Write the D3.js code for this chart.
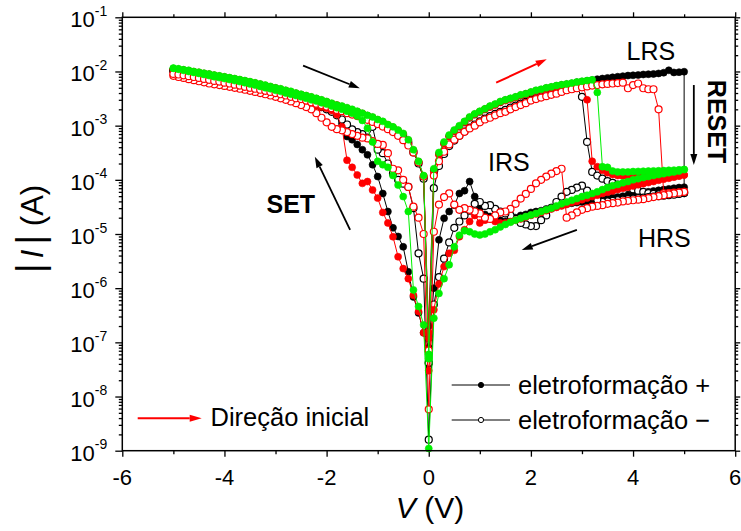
<!DOCTYPE html>
<html>
<head>
<meta charset="utf-8">
<script src="https://cdn.jsdelivr.net/npm/d3@7/dist/d3.min.js"></script>
<style>
  html, body { margin: 0; padding: 0; background: #fff; }
  svg { display: block; }
  text { font-family: Arial, "Liberation Sans", sans-serif; fill: #000; }
</style>
</head>
<body>
<svg id="chart" width="741" height="531"></svg>
<script>
// Voltage sweep: 0 -> +5 V, +5 -> 0 V, 0 -> -5 V, -5 -> 0 V
const voltage = [
  0,0.1,0.2,0.3,0.4,0.5,0.6,0.7,0.8,0.9,1,1.1,1.2,1.3,1.4,1.5,1.6,1.7,1.8,1.9,
  2,2.1,2.2,2.3,2.4,2.5,2.6,2.7,2.8,2.9,3,3.1,3.2,3.3,3.4,3.5,3.6,3.7,3.8,3.9,
  4,4.1,4.2,4.3,4.4,4.5,4.6,4.7,4.8,4.9,5,
  5,4.9,4.8,4.7,4.6,4.5,4.4,4.3,4.2,4.1,4,3.9,3.8,3.7,3.6,3.5,3.4,3.3,3.2,3.1,
  3,2.9,2.8,2.7,2.6,2.5,2.4,2.3,2.2,2.1,2,1.9,1.8,1.7,1.6,1.5,1.4,1.3,1.2,1.1,
  1,0.9,0.8,0.7,0.6,0.5,0.4,0.3,0.2,0.1,0,
  -0.1,-0.2,-0.3,-0.4,-0.5,-0.6,-0.7,-0.8,-0.9,-1,-1.1,-1.2,-1.3,-1.4,-1.5,-1.6,-1.7,-1.8,-1.9,-2,
  -2.1,-2.2,-2.3,-2.4,-2.5,-2.6,-2.7,-2.8,-2.9,-3,-3.1,-3.2,-3.3,-3.4,-3.5,-3.6,-3.7,-3.8,-3.9,-4,
  -4.1,-4.2,-4.3,-4.4,-4.5,-4.6,-4.7,-4.8,-4.9,-5,
  -5,-4.9,-4.8,-4.7,-4.6,-4.5,-4.4,-4.3,-4.2,-4.1,-4,-3.9,-3.8,-3.7,-3.6,-3.5,-3.4,-3.3,-3.2,-3.1,
  -3,-2.9,-2.8,-2.7,-2.6,-2.5,-2.4,-2.3,-2.2,-2.1,-2,-1.9,-1.8,-1.7,-1.6,-1.5,-1.4,-1.3,-1.2,-1.1,
  -1,-0.9,-0.8,-0.7,-0.6,-0.5,-0.4,-0.3,-0.2,-0.1,0
];

// |I| (A) for each sweep point
const blackFilled = [
  2e-7,1.5e-4,3.0e-4,4.7e-4,6.4e-4,8.0e-4,9.6e-4,1.15e-3,1.4e-3,1.6e-3,
  1.8e-3,2.0e-3,2.25e-3,2.45e-3,2.7e-3,2.95e-3,3.15e-3,3.35e-3,3.6e-3,3.85e-3,
  4.1e-3,4.4e-3,4.6e-3,4.9e-3,5.1e-3,5.4e-3,5.6e-3,5.8e-3,6.0e-3,6.3e-3,
  6.5e-3,6.7e-3,6.9e-3,7.2e-3,7.4e-3,7.6e-3,7.8e-3,8.0e-3,8.2e-3,8.4e-3,
  8.5e-3,8.6e-3,8.8e-3,8.9e-3,9.0e-3,9.2e-3,9.5e-3,1.05e-2,9.6e-3,9.7e-3,
  9.9e-3,
  7.3e-5,7.2e-5,7.0e-5,6.8e-5,6.6e-5,6.4e-5,6.2e-5,6.0e-5,5.8e-5,5.6e-5,
  5.4e-5,5.2e-5,5.0e-5,4.8e-5,4.7e-5,4.5e-5,4.4e-5,4.2e-5,4.1e-5,4.0e-5,
  3.9e-5,3.8e-5,3.7e-5,3.6e-5,3.4e-5,3.3e-5,3.1e-5,2.9e-5,2.7e-5,2.6e-5,
  2.5e-5,2.3e-5,2.2e-5,2.0e-5,1.8e-5,1.7e-5,1.8e-5,1.9e-5,2.1e-5,2.3e-5,
  3.0e-5,4.9e-5,9.3e-5,6.3e-5,5.6e-5,3.4e-5,2.6e-5,1.95e-5,7.8e-6,1.0e-6,
  8e-8,
  1.5e-7,3.5e-7,6.9e-7,2.0e-6,5.8e-6,9.0e-6,1.3e-5,2.6e-5,5.6e-5,1.15e-4,
  1.9e-4,2.9e-4,3.6e-4,4.5e-4,5.5e-4,6.3e-4,1.1e-3,1.6e-3,1.9e-3,2.2e-3,
  2.4e-3,2.6e-3,2.8e-3,3.0e-3,3.2e-3,3.4e-3,3.6e-3,3.8e-3,4.0e-3,4.3e-3,
  4.5e-3,4.8e-3,5.0e-3,5.3e-3,5.6e-3,5.9e-3,6.2e-3,6.5e-3,6.8e-3,7.1e-3,
  7.4e-3,7.7e-3,8.0e-3,8.4e-3,8.8e-3,9.2e-3,9.6e-3,1.0e-2,1.05e-2,1.1e-2,
  1.1e-2,1.08e-2,1.05e-2,1.02e-2,9.8e-3,9.5e-3,9.1e-3,8.8e-3,8.4e-3,8.1e-3,
  7.8e-3,7.5e-3,7.2e-3,6.9e-3,6.6e-3,6.3e-3,6.0e-3,5.7e-3,5.4e-3,5.1e-3,
  4.9e-3,4.6e-3,4.4e-3,4.1e-3,3.9e-3,3.7e-3,3.5e-3,3.3e-3,3.1e-3,2.9e-3,
  2.7e-3,2.5e-3,2.35e-3,2.2e-3,2.05e-3,1.9e-3,1.8e-3,1.65e-3,1.5e-3,1.4e-3,
  1.25e-3,1.15e-3,1.0e-3,9.0e-4,7.8e-4,6.8e-4,5.2e-4,3.4e-4,2.1e-4,1.1e-4,
  1.2e-7
];

const blackOpen = [
  4.1e-8,7.0e-5,1.8e-4,3.0e-4,4.2e-4,5.3e-4,6.5e-4,7.8e-4,9.2e-4,1.05e-3,
  1.2e-3,1.35e-3,1.5e-3,1.65e-3,1.8e-3,1.95e-3,2.15e-3,2.35e-3,2.55e-3,2.75e-3,
  3.0e-3,3.2e-3,3.45e-3,3.7e-3,3.9e-3,4.1e-3,4.35e-3,4.6e-3,4.8e-3,5.0e-3,
  3.4e-3,5.0e-4,1.4e-4,1.2e-4,1.05e-4,9.5e-5,8.8e-5,8.2e-5,7.6e-5,7.1e-5,
  6.7e-5,6.3e-5,6.0e-5,5.7e-5,5.5e-5,5.4e-5,5.4e-5,5.5e-5,5.5e-5,5.6e-5,
  5.7e-5,
  5.7e-5,5.5e-5,5.3e-5,5.2e-5,5.1e-5,5.0e-5,4.9e-5,4.8e-5,4.7e-5,4.6e-5,
  4.5e-5,4.4e-5,4.3e-5,4.2e-5,4.1e-5,4.0e-5,3.9e-5,4.3e-5,5.3e-5,6.3e-5,
  7.8e-5,7.2e-5,6.5e-5,6.0e-5,4.9e-5,3.9e-5,3.0e-5,2.2e-5,1.8e-5,1.4e-5,
  1.4e-5,1.5e-5,1.6e-5,1.9e-5,2.2e-5,2.4e-5,2.6e-5,2.9e-5,3.4e-5,3.3e-5,
  3.9e-5,3.6e-5,2.7e-5,2.2e-5,1.7e-5,1.3e-5,7.0e-6,3.5e-6,1.6e-6,5.0e-7,
  1.6e-9,
  1.5e-6,4.4e-6,3.0e-5,7.4e-5,8.5e-5,1.0e-4,1.3e-4,2.0e-4,3.1e-4,3.6e-4,
  9.5e-4,6.0e-4,7.0e-4,7.6e-4,8.5e-4,1.05e-3,1.3e-3,1.55e-3,1.8e-3,2.0e-3,
  2.2e-3,2.4e-3,2.6e-3,2.8e-3,3.0e-3,3.2e-3,3.4e-3,3.6e-3,3.8e-3,4.0e-3,
  4.2e-3,4.5e-3,4.7e-3,5.0e-3,5.3e-3,5.6e-3,5.9e-3,6.2e-3,6.5e-3,6.8e-3,
  7.1e-3,7.4e-3,7.7e-3,8.0e-3,8.4e-3,8.8e-3,9.2e-3,9.6e-3,1.0e-2,1.03e-2,
  1.03e-2,1.0e-2,9.8e-3,9.5e-3,9.2e-3,8.9e-3,8.6e-3,8.3e-3,8.0e-3,7.7e-3,
  7.4e-3,7.1e-3,6.8e-3,6.5e-3,6.2e-3,5.9e-3,5.7e-3,5.4e-3,5.1e-3,4.9e-3,
  4.6e-3,4.4e-3,4.2e-3,3.9e-3,3.7e-3,3.5e-3,3.3e-3,3.1e-3,2.9e-3,2.75e-3,
  2.55e-3,2.4e-3,2.25e-3,2.1e-3,1.95e-3,1.8e-3,1.7e-3,1.55e-3,1.45e-3,1.3e-3,
  1.2e-3,1.1e-3,9.6e-4,8.6e-4,7.4e-4,6.3e-4,4.8e-4,3.2e-4,2.0e-4,1.05e-4,
  4.2e-8
];

const redFilled = [
  1.2e-7,1.4e-4,2.9e-4,4.6e-4,6.3e-4,7.9e-4,9.6e-4,1.15e-3,1.4e-3,1.6e-3,
  1.8e-3,2.0e-3,2.2e-3,2.4e-3,2.7e-3,2.9e-3,3.1e-3,3.3e-3,3.6e-3,3.8e-3,
  4.1e-3,4.35e-3,4.55e-3,4.85e-3,5.05e-3,5.3e-3,5.5e-3,5.7e-3,5.9e-3,6.2e-3,
  6.4e-3,3.0e-3,2.2e-4,1.75e-4,1.5e-4,1.35e-4,1.25e-4,1.2e-4,1.18e-4,1.17e-4,
  1.17e-4,1.17e-4,1.18e-4,1.18e-4,1.19e-4,1.2e-4,1.2e-4,1.21e-4,1.22e-4,1.22e-4,
  1.23e-4,
  1.23e-4,1.17e-4,1.12e-4,1.07e-4,1.03e-4,9.8e-5,9.3e-5,8.9e-5,8.5e-5,8.1e-5,
  7.7e-5,7.3e-5,7.0e-5,6.6e-5,6.2e-5,5.9e-5,5.6e-5,5.2e-5,4.9e-5,4.6e-5,
  4.3e-5,4.0e-5,3.8e-5,3.5e-5,3.3e-5,3.1e-5,2.9e-5,2.7e-5,2.5e-5,2.35e-5,
  2.2e-5,2.05e-5,1.9e-5,1.8e-5,1.7e-5,1.6e-5,1.6e-5,1.7e-5,1.9e-5,1.8e-5,
  1.6e-5,2.2e-5,1.7e-5,1.2e-5,8.9e-6,5.0e-6,4.4e-6,2.5e-6,1.2e-6,4.0e-7,
  3.0e-8,
  1.5e-7,3.7e-7,7.4e-7,1.5e-6,2.3e-6,3.8e-6,8.9e-6,1.6e-5,2.5e-5,4.6e-5,
  6.5e-5,9.3e-5,8.6e-5,1.23e-4,1.7e-4,2.3e-4,9.5e-4,1.6e-3,1.9e-3,2.1e-3,
  2.2e-3,2.35e-3,2.5e-3,2.8e-3,3.0e-3,3.2e-3,3.4e-3,3.6e-3,3.9e-3,4.1e-3,
  4.4e-3,4.6e-3,4.9e-3,5.2e-3,5.5e-3,5.8e-3,6.1e-3,6.4e-3,6.7e-3,7.0e-3,
  7.3e-3,7.6e-3,7.9e-3,8.3e-3,8.7e-3,9.1e-3,9.5e-3,9.9e-3,1.04e-2,1.1e-2,
  1.1e-2,1.09e-2,1.06e-2,1.03e-2,9.9e-3,9.6e-3,9.2e-3,8.9e-3,8.5e-3,8.2e-3,
  7.9e-3,7.6e-3,7.3e-3,7.0e-3,6.7e-3,6.4e-3,6.1e-3,5.8e-3,5.5e-3,5.2e-3,
  4.95e-3,4.7e-3,4.45e-3,4.2e-3,3.95e-3,3.75e-3,3.55e-3,3.35e-3,3.15e-3,2.95e-3,
  2.75e-3,2.55e-3,2.4e-3,2.25e-3,2.1e-3,1.95e-3,1.8e-3,1.68e-3,1.53e-3,1.42e-3,
  1.28e-3,1.17e-3,1.03e-3,9.3e-4,8.1e-4,7.0e-4,5.4e-4,3.5e-4,2.15e-4,1.15e-4,
  1.5e-7
];

const redOpen = [
  6.8e-8,1.2e-4,2.2e-4,3.3e-4,4.5e-4,5.5e-4,6.5e-4,7.7e-4,8.9e-4,1.0e-3,
  1.15e-3,1.3e-3,1.4e-3,1.55e-3,1.7e-3,1.8e-3,2.0e-3,2.2e-3,2.4e-3,2.6e-3,
  2.9e-3,3.1e-3,3.3e-3,3.5e-3,3.7e-3,3.9e-3,4.2e-3,4.5e-3,4.7e-3,4.9e-3,
  5.1e-3,5.3e-3,5.5e-3,5.6e-3,5.8e-3,5.9e-3,6.0e-3,6.1e-3,6.2e-3,4.9e-3,
  5.6e-3,6.0e-3,4.9e-3,4.7e-3,4.7e-3,2.0e-3,5.6e-5,5.7e-5,5.8e-5,5.9e-5,
  6.0e-5,
  6.0e-5,5.8e-5,5.6e-5,5.4e-5,5.2e-5,5.0e-5,4.8e-5,4.6e-5,4.4e-5,4.3e-5,
  4.2e-5,4.1e-5,4.0e-5,3.8e-5,3.7e-5,3.6e-5,3.4e-5,3.3e-5,3.2e-5,3.0e-5,
  2.8e-5,2.5e-5,2.2e-5,2.0e-5,1.6e-4,1.45e-4,1.3e-4,1.15e-4,1.0e-4,8.6e-5,
  6.8e-5,5.5e-5,4.5e-5,3.6e-5,2.9e-5,2.6e-5,2.5e-5,2.2e-5,1.9e-5,2.0e-5,
  2.4e-5,2.6e-5,2.8e-5,3.0e-5,2.8e-5,3.5e-5,5.6e-5,4.8e-5,3.5e-5,1.1e-5,
  5.8e-9,
  1.0e-5,2.0e-5,3.2e-5,7.4e-5,1.0e-4,1.5e-4,1.6e-4,3.1e-4,4.4e-4,4.6e-4,
  5.2e-4,5.8e-4,6.0e-4,6.5e-4,7.0e-4,7.6e-4,8.2e-4,8.6e-4,9.5e-4,1.15e-3,
  1.4e-3,1.7e-3,2.0e-3,2.2e-3,2.4e-3,2.6e-3,2.8e-3,3.0e-3,3.2e-3,3.4e-3,
  3.6e-3,3.8e-3,4.0e-3,4.2e-3,4.4e-3,4.6e-3,4.8e-3,5.0e-3,5.2e-3,5.4e-3,
  5.6e-3,5.8e-3,6.0e-3,6.3e-3,6.6e-3,6.9e-3,7.2e-3,7.6e-3,7.9e-3,8.3e-3,
  9.0e-3,8.8e-3,8.5e-3,8.2e-3,7.9e-3,7.6e-3,7.3e-3,7.0e-3,6.7e-3,6.5e-3,
  6.2e-3,6.0e-3,5.7e-3,5.5e-3,5.2e-3,5.0e-3,4.8e-3,4.6e-3,4.4e-3,4.2e-3,
  4.0e-3,3.8e-3,3.6e-3,3.4e-3,3.2e-3,3.1e-3,2.9e-3,2.7e-3,2.55e-3,2.4e-3,
  2.25e-3,2.1e-3,1.95e-3,1.85e-3,1.7e-3,1.6e-3,1.5e-3,1.38e-3,1.28e-3,1.17e-3,
  1.07e-3,9.6e-4,8.6e-4,7.6e-4,6.5e-4,5.4e-4,4.3e-4,3.2e-4,2.1e-4,1.15e-4,
  7.1e-8
];

const greenFilled = [
  5e-8,1.6e-4,3.2e-4,5.0e-4,6.7e-4,8.3e-4,1.0e-3,1.2e-3,1.45e-3,1.65e-3,
  1.85e-3,2.05e-3,2.3e-3,2.5e-3,2.8e-3,3.0e-3,3.2e-3,3.4e-3,3.7e-3,3.9e-3,
  4.2e-3,4.5e-3,4.7e-3,5.0e-3,5.2e-3,5.5e-3,5.7e-3,5.9e-3,6.1e-3,6.4e-3,
  6.6e-3,6.8e-3,7.0e-3,4.1e-3,1.75e-4,1.7e-4,1.45e-4,1.4e-4,1.4e-4,1.4e-4,
  1.42e-4,1.43e-4,1.44e-4,1.45e-4,1.46e-4,1.47e-4,1.48e-4,1.5e-4,1.51e-4,1.53e-4,
  1.55e-4,
  1.55e-4,1.45e-4,1.4e-4,1.35e-4,1.3e-4,1.25e-4,1.2e-4,1.15e-4,1.1e-4,1.05e-4,
  1.0e-4,9.3e-5,8.8e-5,8.2e-5,7.8e-5,7.2e-5,6.6e-5,6.0e-5,5.6e-5,5.2e-5,
  4.9e-5,4.5e-5,4.2e-5,3.9e-5,3.6e-5,3.3e-5,3.0e-5,2.8e-5,2.6e-5,2.4e-5,
  2.25e-5,2.1e-5,1.95e-5,1.8e-5,1.65e-5,1.5e-5,1.35e-5,1.2e-5,1.1e-5,1.0e-5,
  9.6e-6,1.0e-5,1.1e-5,1.15e-5,9.5e-6,5.8e-6,2.7e-6,1.5e-6,8.0e-7,2.8e-7,
  1.1e-9,
  2.1e-7,4.6e-7,9.3e-7,2.6e-5,4.9e-5,8.0e-5,1.2e-4,1.7e-4,1.9e-4,2.2e-4,
  5.0e-4,9.0e-4,1.25e-3,1.5e-3,1.7e-3,1.85e-3,2.0e-3,2.15e-3,2.3e-3,2.5e-3,
  2.65e-3,2.85e-3,3.0e-3,3.2e-3,3.4e-3,3.6e-3,3.8e-3,4.0e-3,4.3e-3,4.5e-3,
  4.8e-3,5.0e-3,5.3e-3,5.6e-3,5.9e-3,6.2e-3,6.5e-3,6.8e-3,7.1e-3,7.4e-3,
  7.7e-3,8.0e-3,8.4e-3,8.8e-3,9.2e-3,9.6e-3,1.0e-2,1.05e-2,1.1e-2,1.15e-2,
  1.15e-2,1.12e-2,1.08e-2,1.05e-2,1.0e-2,9.7e-3,9.3e-3,9.0e-3,8.6e-3,8.3e-3,
  8.0e-3,7.7e-3,7.4e-3,7.1e-3,6.8e-3,6.5e-3,6.2e-3,5.9e-3,5.6e-3,5.3e-3,
  5.0e-3,4.8e-3,4.5e-3,4.3e-3,4.0e-3,3.8e-3,3.6e-3,3.4e-3,3.2e-3,3.0e-3,
  2.8e-3,2.6e-3,2.4e-3,2.3e-3,2.15e-3,2.0e-3,1.85e-3,1.7e-3,1.55e-3,1.45e-3,
  1.3e-3,1.2e-3,1.05e-3,9.5e-4,8.3e-4,7.2e-4,5.5e-4,3.6e-4,2.2e-4,1.2e-4,
  6e-8
];

// Axis ticks
const xTicks = [-6, -4, -2, 0, 2, 4, 6];
const xMinorTicks = [-5, -3, -1, 1, 3, 5];
const yExponents = [-9, -8, -7, -6, -5, -4, -3, -2, -1];

// Annotation arrows in data units [V, |I|]
const arrowReturnNeg = [[-2.46, 1.28e-2], [-1.35, 4.89e-3]];
const arrowStart = [[1.32, 6.21e-3], [2.31, 1.68e-2]];
const arrowSet = [[-1.54, 1.19e-5], [-2.23, 2.67e-4]];
const arrowReset = [[5.19, 5.62e-3], [5.19, 1.88e-4]];
const arrowReturnPos = [[2.90, 1.19e-5], [1.82, 5.07e-6]];

const RED = "#ff0000";
const GREEN = "#00f000";

const svg = d3.select("#chart");
const W = 741, H = 531;
const plotLeft = 122.3, plotRight = 735.2, plotTop = 17.3, plotBottom = 450.7;

const x = d3.scaleLinear().domain([-6, 6]).range([plotLeft, plotRight]);
const y = d3.scaleLog().domain([1e-9, 1e-1]).range([plotBottom, plotTop]);

svg.append("rect").attr("width", W).attr("height", H).attr("fill", "#fff");

// ---- axes (ticks only; frame drawn separately) ----
const majorY = yExponents.map(e => Math.pow(10, e));
const minorY = [];
yExponents.slice(0, -1).forEach(e => {
  for (let k = 2; k <= 9; k++) minorY.push(k * Math.pow(10, e));
});

function tickStyle(g) {
  g.select(".domain").remove();
  g.selectAll("text").remove();
  g.selectAll("line").attr("stroke", "#000").attr("stroke-width", 1.3);
}

const axes = svg.append("g");
axes.append("g").attr("transform", `translate(0,${plotBottom})`)
  .call(d3.axisBottom(x).tickValues(xTicks).tickSize(6).tickFormat("")).call(tickStyle);
axes.append("g").attr("transform", `translate(0,${plotBottom})`)
  .call(d3.axisBottom(x).tickValues(xMinorTicks).tickSize(3.5).tickFormat("")).call(tickStyle);
axes.append("g").attr("transform", `translate(0,${plotTop})`)
  .call(d3.axisTop(x).tickValues(xTicks).tickSize(5).tickFormat("")).call(tickStyle);
axes.append("g").attr("transform", `translate(0,${plotTop})`)
  .call(d3.axisTop(x).tickValues(xMinorTicks).tickSize(3).tickFormat("")).call(tickStyle);
axes.append("g").attr("transform", `translate(${plotLeft},0)`)
  .call(d3.axisLeft(y).tickValues(majorY).tickSize(7).tickFormat("")).call(tickStyle);
axes.append("g").attr("transform", `translate(${plotLeft},0)`)
  .call(d3.axisLeft(y).tickValues(minorY).tickSize(3.5).tickFormat("")).call(tickStyle);
axes.append("g").attr("transform", `translate(${plotRight},0)`)
  .call(d3.axisRight(y).tickValues(majorY).tickSize(5).tickFormat("")).call(tickStyle);
axes.append("g").attr("transform", `translate(${plotRight},0)`)
  .call(d3.axisRight(y).tickValues(minorY).tickSize(3).tickFormat("")).call(tickStyle);

// x tick labels
svg.append("g").selectAll("text").data(xTicks).join("text")
  .attr("x", d => x(d)).attr("y", plotBottom + 34.5)
  .attr("text-anchor", "middle").attr("font-size", 22)
  .text(d => String(d));

// y tick labels: 10^n
const yl = svg.append("g").selectAll("text").data(yExponents).join("text")
  .attr("x", plotLeft - 15).attr("y", d => y(Math.pow(10, d)) + 10)
  .attr("text-anchor", "end");
yl.append("tspan").attr("font-size", 22).text("10");
yl.append("tspan").attr("font-size", 14).attr("dy", -11.5).text(d => String(d));

// axis titles
const xt = svg.append("text").attr("x", 430).attr("y", 518)
  .attr("text-anchor", "middle").attr("font-size", 30);
xt.append("tspan").attr("font-style", "italic").text("V");
xt.append("tspan").text(" (V)");

const yt = svg.append("text")
  .attr("transform", "translate(43,229) rotate(-90)")
  .attr("text-anchor", "middle").attr("font-size", 31);
yt.append("tspan").attr("font-size", 38).text("|");
yt.append("tspan").attr("dx", 5).attr("font-style", "italic").text("I");
yt.append("tspan").attr("dx", 5).attr("font-size", 38).text("|");
yt.append("tspan").text(" (A)");

// ---- data ----
const seriesList = [
  { values: blackFilled, color: "#000", open: false },
  { values: blackOpen, color: "#000", open: true },
  { values: redFilled, color: RED, open: false },
  { values: redOpen, color: RED, open: true },
  { values: greenFilled, color: GREEN, open: false }
];

const line = d3.line().x(d => x(d[0])).y(d => y(d[1]));
const plot = svg.append("g");

seriesList.forEach(s => {
  const pts = voltage.map((v, i) => [v, s.values[i]]);
  const g = plot.append("g");
  g.append("path").datum(pts).attr("d", line)
    .attr("fill", "none").attr("stroke", s.color).attr("stroke-width", 1);
  g.selectAll("circle").data(pts).join("circle")
    .attr("cx", d => x(d[0])).attr("cy", d => y(d[1])).attr("r", 3.5)
    .attr("fill", s.open ? "#fff" : s.color)
    .attr("stroke", s.color).attr("stroke-width", s.open ? 1.2 : 0.6);
});

// frame
svg.append("rect").attr("x", plotLeft).attr("y", plotTop)
  .attr("width", plotRight - plotLeft).attr("height", plotBottom - plotTop)
  .attr("fill", "none").attr("stroke", "#000").attr("stroke-width", 1.5);

// ---- annotations ----
function arrow(x1, y1, x2, y2, color, width, headLen, headHalf) {
  const a = Math.atan2(y2 - y1, x2 - x1);
  const bx = x2 - headLen * Math.cos(a), by = y2 - headLen * Math.sin(a);
  svg.append("line").attr("x1", x1).attr("y1", y1).attr("x2", bx).attr("y2", by)
    .attr("stroke", color).attr("stroke-width", width);
  const px = -Math.sin(a) * headHalf, py = Math.cos(a) * headHalf;
  svg.append("path")
    .attr("d", `M${x2},${y2}L${bx + px},${by + py}L${bx - px},${by - py}Z`)
    .attr("fill", color);
}
function dataArrow(pair, color, width) {
  arrow(x(pair[0][0]), y(pair[0][1]), x(pair[1][0]), y(pair[1][1]), color, width, 11, 3.5);
}
dataArrow(arrowReturnNeg, "#000", 1.8);
dataArrow(arrowStart, RED, 2);
dataArrow(arrowSet, "#000", 1.8);
dataArrow(arrowReset, "#000", 1.8);
dataArrow(arrowReturnPos, "#000", 1.8);

svg.append("text").attr("x", 626.5).attr("y", 60).attr("font-size", 25).text("LRS");
svg.append("text").attr("x", 488).attr("y", 171).attr("font-size", 25).text("IRS");
svg.append("text").attr("x", 638).attr("y", 246.5).attr("font-size", 25).text("HRS");
svg.append("text").attr("x", 266.5).attr("y", 213).attr("font-size", 25)
  .attr("font-weight", "bold").text("SET");
svg.append("text").attr("transform", "translate(716.5,121.5) rotate(90)")
  .attr("text-anchor", "middle").attr("dominant-baseline", "central")
  .attr("font-size", 25).attr("font-weight", "bold").text("RESET");

// legend: initial direction
arrow(137.7, 418.3, 201.7, 418.3, RED, 2, 12, 3.5);
svg.append("text").attr("x", 210.5).attr("y", 426).attr("font-size", 25.5).text("Direção inicial");

// legend: series
const legendRows = [
  { label: "eletroformação +", open: false, yy: 385 },
  { label: "eletroformação \u2212", open: true, yy: 420 }
];
legendRows.forEach(r => {
  svg.append("line").attr("x1", 451.7).attr("x2", 510).attr("y1", r.yy).attr("y2", r.yy)
    .attr("stroke", "#000").attr("stroke-width", 1);
  svg.append("circle").attr("cx", 481).attr("cy", r.yy).attr("r", 2.6)
    .attr("fill", r.open ? "#fff" : "#000").attr("stroke", "#000").attr("stroke-width", 1);
  svg.append("text").attr("x", 518).attr("y", r.yy + 8.5).attr("font-size", 25.5).text(r.label);
});
</script>
</body>
</html>
